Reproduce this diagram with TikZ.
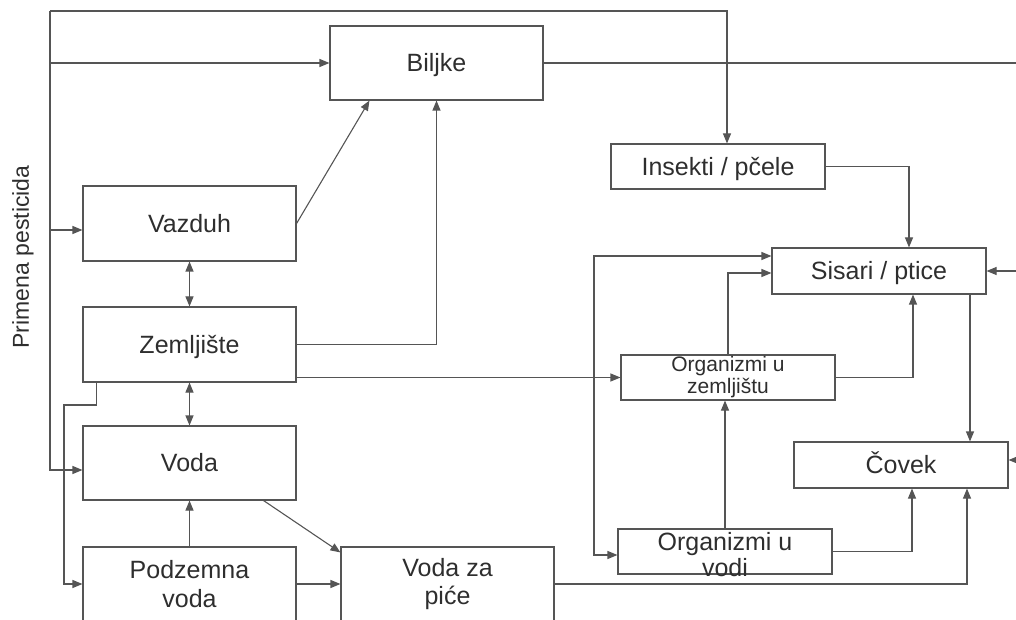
\documentclass[tikz,border=0pt]{standalone}
\usepackage{fontspec}
\setmainfont{Liberation Sans}
\usetikzlibrary{arrows.meta,calc}
\definecolor{lncol}{HTML}{555555}
\definecolor{txcol}{HTML}{2E2E2E}
\begin{document}
\begin{tikzpicture}[x=1pt,y=1pt,
  box/.style={draw=lncol,line width=1.1pt,inner sep=0pt,text=txcol,align=center,
    minimum width=213pt,font=\fontsize{25}{29}\selectfont},
  one/.style={text height=17.9pt,text depth=0pt},
  plain/.style={draw=lncol,line width=1.1pt},
  arr/.style={plain,-{Triangle[length=10pt,width=8pt]}},
  dbl/.style={plain,{Triangle[length=10pt,width=8pt]}-{Triangle[length=10pt,width=8pt]}}]
\useasboundingbox (0,0) rectangle (1016,619);
\clip (0,0) rectangle (1016,619);

% boxes
\node[box,one,minimum height=74pt] (bil) at (436.5,556) {Biljke};
\node[box,one,minimum height=75pt] (vaz) at (189.5,395.5) {Vazduh};
\node[box,one,minimum height=75pt] (zem) at (189.5,274.5) {Zemljište};
\node[box,one,minimum height=74pt] (voda) at (189.5,156) {Voda};
\node[box,minimum height=74pt] (pod) at (189.5,35) {Podzemna\\voda};
\node[box,minimum height=74pt,font=\fontsize{25}{28}\selectfont] (vzp) at (447.5,35) {Voda za\\piće};
\node[box,one,minimum width=214pt,minimum height=45pt] (ins) at (718,452.5) {Insekti / pčele};
\node[box,one,minimum width=214pt,minimum height=46pt] (sis) at (879,348) {Sisari / ptice};
\node[box,minimum width=214pt,minimum height=45pt,font=\fontsize{21}{22}\selectfont] (oz) at (728,241.5) {Organizmi u\\zemljištu};
\node[box,one,minimum width=214pt,minimum height=46pt] (cov) at (901,154) {Čovek};
\node[box,minimum width=214pt,minimum height=45pt] (ov) at (725,67.5) {};
\node[text=txcol,align=center,inner sep=0pt,font=\fontsize{25}{26}\selectfont] (ovt) at ([yshift=-3]ov.center) {Organizmi u\\vodi};

\node[text=txcol,font=\fontsize{23}{27}\selectfont,rotate=90] (prim) at (23,362) {Primena pesticida};

% helper coordinates
\coordinate (tl) at (50,608);
\coordinate (vazin) at ([yshift=-6.5]vaz.west);
\coordinate (vodin) at ([yshift=-7]voda.west);
\coordinate (zb) at (64,214);
\coordinate (rx) at (1016,0);
\coordinate (covin) at ([yshift=5]cov.east);
\coordinate (sisa) at ([yshift=15]sis.west);
\coordinate (ova) at ([yshift=-3.5]ov.west);
\coordinate (lx) at (594,0);
\coordinate (sc) at ([xshift=91]sis.south);

% left trunk
\draw[arr] (tl) |- (vodin);
\draw[arr] (tl) -| ([xshift=9]ins.north);
\draw[arr] (tl |- bil.west) -- (bil.west);
\draw[arr] (tl |- vazin) -- (vazin);

% Biljke outgoing line to the right edge
\draw[plain] (bil.east) -- (bil.east -| rx);

% left column
\draw[arr] (vaz.east) -- ([xshift=40]bil.south west);
\draw[dbl] (vaz.south) -- (zem.north);
\draw[arr] (zem.east) -| (bil.south);
\draw[arr] (zem.east |- oz.west) -- (oz.west);
\draw[dbl] (zem.south) -- (voda.north);
\draw[arr] ([xshift=14]zem.south west) |- (zb) |- (pod.west);
\draw[arr] (pod.north) -- (voda.south);
\draw[arr] ([xshift=-33]voda.south east) -- ([yshift=-6]vzp.north west);
\draw[arr] (pod.east) -- (pod.east -| vzp.west);
\draw[arr] (vzp.east) -| ([xshift=66]cov.south);

% right part
\draw[arr] (ins.east) -| ([xshift=30]sis.north);
\draw[arr] (sis.east -| rx) -- (sis.east);
\draw[arr] (covin -| rx) -- (covin);
\draw[dbl] (sisa) -| (lx |- ova) -- (ova);
\draw[arr] (oz.north) |- ([yshift=-2]sis.west);
\draw[arr] (oz.east) -| ([xshift=34]sis.south);
\draw[arr] (sc) -- (sc |- cov.north);
\draw[arr] (ov.north) -- (ov.north |- oz.south);
\draw[arr] (ov.east) -| ([xshift=11]cov.south);
\end{tikzpicture}
\end{document}
